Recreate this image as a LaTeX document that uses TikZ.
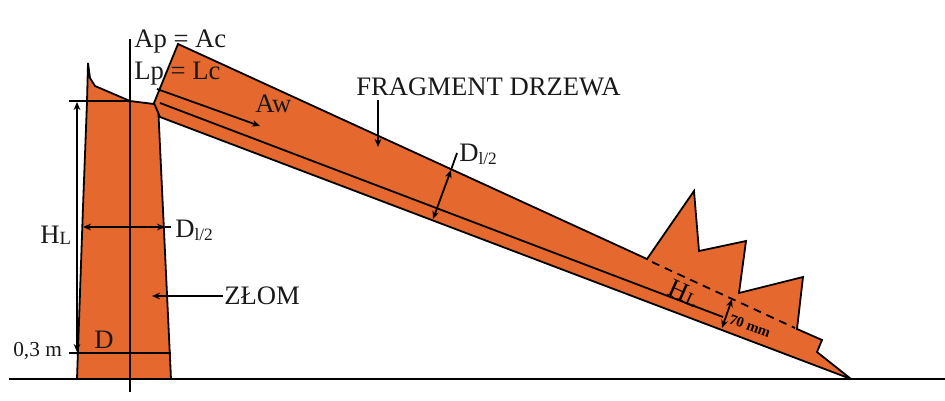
\documentclass[tikz,border=0pt]{standalone}
\usepackage{fontspec}
\setmainfont{Liberation Serif}
\usepackage{xcolor}
\usetikzlibrary{arrows.meta}
\definecolor{wood}{HTML}{E5692F}
\newcommand{\lowtxt}[1]{\raisebox{-2.5pt}{\fontsize{13}{15}\selectfont #1}}
\tikzstyle{piece} = [draw=black, fill=wood, line width=1.35pt, line join=miter, miter limit=4]
\tikzstyle{line} = [draw=black, line width=1.35pt]
\tikzstyle{arrow} = [line width=1.35pt,-{Stealth[length=6pt,width=5pt]}]
\tikzstyle{both} = [line width=1.35pt,{Stealth[length=6pt,width=5pt]}-{Stealth[length=6pt,width=5pt]}]
\tikzstyle{txt} = [anchor=base west, inner sep=0pt, text=black!90, font=\fontsize{20}{24}\selectfont]

\begin{document}
\begin{tikzpicture}[x=0.75pt, y=-0.75pt]
    \useasboundingbox (0,0) rectangle (945,400);

    % Pieces
    \draw[piece] (88,63) -- (90,78) -- (95,86) -- (130,101) -- (154,104) -- (158,104)
        -- (171,379) -- (77,379) -- (83,207) -- (87,102) -- cycle;
    \draw[piece] (178,44) -- (647,259) -- (694,191) -- (699,251) -- (746,241) -- (739,293)
        -- (803,277) -- (797,329) -- (822,340) -- (817,352) -- (851,379) -- (160,117)
        -- (154,103) -- cycle;

    % Points
    \coordinate (axistop) at (130,39);
    \coordinate (axisbot) at (130,392);
    \coordinate (groundl) at (9,379);
    \coordinate (groundr) at (945,379);
    \coordinate (topl) at (69,101);
    \coordinate (topr) at (130,101);
    \coordinate (hltop) at (77,102);
    \coordinate (hlbot) at (77,352);
    \coordinate (cutl) at (69,353);
    \coordinate (cutr) at (171,353);
    \coordinate (dleft) at (83,227);
    \coordinate (dright) at (165,227);
    \coordinate (dend) at (171,227);
    \coordinate (scrapfrom) at (223,296);
    \coordinate (scrapto) at (152,296);
    \coordinate (awfrom) at (157,89);
    \coordinate (awto) at (260,126);
    \coordinate (coreleft) at (160,103);
    \coordinate (coreright) at (723,317);
    \coordinate (fragfrom) at (378,100);
    \coordinate (fragto) at (378,147);
    \coordinate (dfragend) at (457,153);
    \coordinate (dfragtop) at (451,170);
    \coordinate (dfragbot) at (433,219);
    \coordinate (crownl) at (652,262);
    \coordinate (crownr) at (795,328);
    \coordinate (mmtop) at (732,299);
    \coordinate (mmbot) at (722,328);

    % Lines
    \draw[line] (axistop) -- (axisbot);
    \draw[line] (groundl) -- (groundr);
    \draw[line] (topl) -- (topr);
    \draw[line] (cutl) -- (cutr);
    \draw[line] (coreleft) -- (coreright);
    \draw[line] (dright) -- (dend);
    \draw[line] (dfragend) -- (dfragtop);
    \draw[line, dashed, dash pattern=on 6pt off 4.5pt] (crownl) -- (crownr);

    % Arrows
    \draw[both] (hltop) -- (hlbot);
    \draw[both] (dleft) -- (dright);
    \draw[arrow] (scrapfrom) -- (scrapto);
    \draw[arrow] (awfrom) -- (awto);
    \draw[arrow] (fragfrom) -- (fragto);
    \draw[both] (dfragtop) -- (dfragbot);
    \draw[both] (mmtop) -- (mmbot);

    % Labels
    \node (apac) [txt] at (134,47) {Ap = Ac};
    \node (lplc) [txt] at (134,79) {Lp = Lc};
    \node (aw) [txt] at (255,112) {Aw};
    \node (fragment) [txt] at (356,95) {FRAGMENT DRZEWA};
    \node (dfrag) [txt] at (459,161) {D\lowtxt{l/2}};
    \node (dtrunk) [txt] at (175,237) {D\lowtxt{l/2}};
    \node (hl) [txt] at (40,243) {H\raisebox{-1pt}{\fontsize{14}{16}\selectfont L}};
    \node (scrap) [txt] at (224,304) {ZŁOM};
    \node (meter) [txt, font=\fontsize{16}{18}\selectfont] at (13,356) {0,3 m};
    \node (d) [txt] at (94,348) {D};
    \node (hlfrag) [inner sep=0pt, rotate=-24, font=\fontsize{20}{24}\selectfont] at (684,293) {H\raisebox{-1pt}{\fontsize{14}{16}\selectfont L}};
    \node (mm) [inner sep=0pt, rotate=-20, font=\bfseries\fontsize{11}{14}\selectfont] at (750,326) {70 mm};

\end{tikzpicture}
\end{document}
